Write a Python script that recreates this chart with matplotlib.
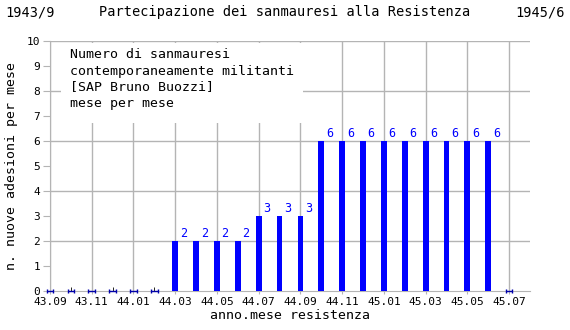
import matplotlib
matplotlib.use("Agg")
import matplotlib.pyplot as plt
from matplotlib.patches import Rectangle
import numpy as np

# mesi da 43.09 a 45.07
mesi = ["43.09", "43.10", "43.11", "43.12", "44.01", "44.02", "44.03", "44.04",
        "44.05", "44.06", "44.07", "44.08", "44.09", "44.10", "44.11", "44.12",
        "45.01", "45.02", "45.03", "45.04", "45.05", "45.06", "45.07"]
militanti = [0, 0, 0, 0, 0, 0, 2, 2, 2, 2, 3, 3, 3, 6, 6, 6, 6, 6, 6, 6, 6, 6, 0]

plt.rcParams["font.family"] = ["DejaVu Sans Mono"]
GRID = "#b4b4b4"
BLU = "#0000ff"

fig = plt.figure(figsize=(5.7, 3.3), dpi=100)
ax = fig.add_axes([50 / 570, 39 / 330, 480 / 570, 250 / 330])

x = np.arange(len(mesi))
y = np.array(militanti)

ax.set_xlim(0, 23)
ax.set_ylim(0, 10)

# griglia
for k in range(0, 23, 2):
    ax.axvline(k, color=GRID, lw=1, zorder=0)
for v in range(2, 11, 2):
    ax.axhline(v, color=GRID, lw=1, zorder=0)

for s in ["top", "right"]:
    ax.spines[s].set_visible(False)
for s in ["left", "bottom"]:
    ax.spines[s].set_color(GRID)

nz = y > 0
ax.bar(x[nz], y[nz], width=0.28, color=BLU, zorder=3)
for xi, yi in zip(x[nz], y[nz]):
    ax.text(xi + 0.22, yi + 0.05, str(yi), color=BLU, fontsize=8.5,
            ha="left", va="bottom", zorder=4)

# valori nulli
z = ~nz
ax.errorbar(x[z], y[z], xerr=0.16, fmt="none", ecolor="#0000aa",
            elinewidth=1, capsize=1.5, capthick=1, zorder=4, clip_on=False)

ax.set_xticks(x[::2])
ax.set_xticklabels(mesi[::2])
ax.set_xticks(x[1::2], minor=True)
ax.set_yticks(range(0, 11))
ax.tick_params(axis="both", labelsize=8, color=GRID)
ax.tick_params(axis="x", which="major", length=2, direction="out", pad=2)
ax.tick_params(axis="x", which="minor", length=3, direction="in")
ax.tick_params(axis="y", length=5, direction="out", pad=2)

ax.set_xlabel("anno.mese resistenza", fontsize=9.5, labelpad=2)
ax.set_ylabel("n. nuove adesioni per mese", fontsize=9.5, labelpad=6)

# riquadro bianco della legenda
ax.add_patch(Rectangle((0.53, 6.72), 11.6, 3.22, facecolor="white",
                       edgecolor="none", zorder=1))
ax.text(0.96, 9.7,
        "Numero di sanmauresi\ncontemporaneamente militanti\n[SAP Bruno Buozzi]\nmese per mese",
        fontsize=9.5, ha="left", va="top", linespacing=1.3, zorder=2)

fig.text(5 / 570, 1 - 12 / 330, "1943/9", fontsize=9.8, ha="left", va="center")
fig.text(0.5, 1 - 12 / 330, "Partecipazione dei sanmauresi alla Resistenza",
         fontsize=9.8, ha="center", va="center")
fig.text(565 / 570, 1 - 12 / 330, "1945/6", fontsize=9.8, ha="right", va="center")

fig.savefig("out.png", dpi=100)
